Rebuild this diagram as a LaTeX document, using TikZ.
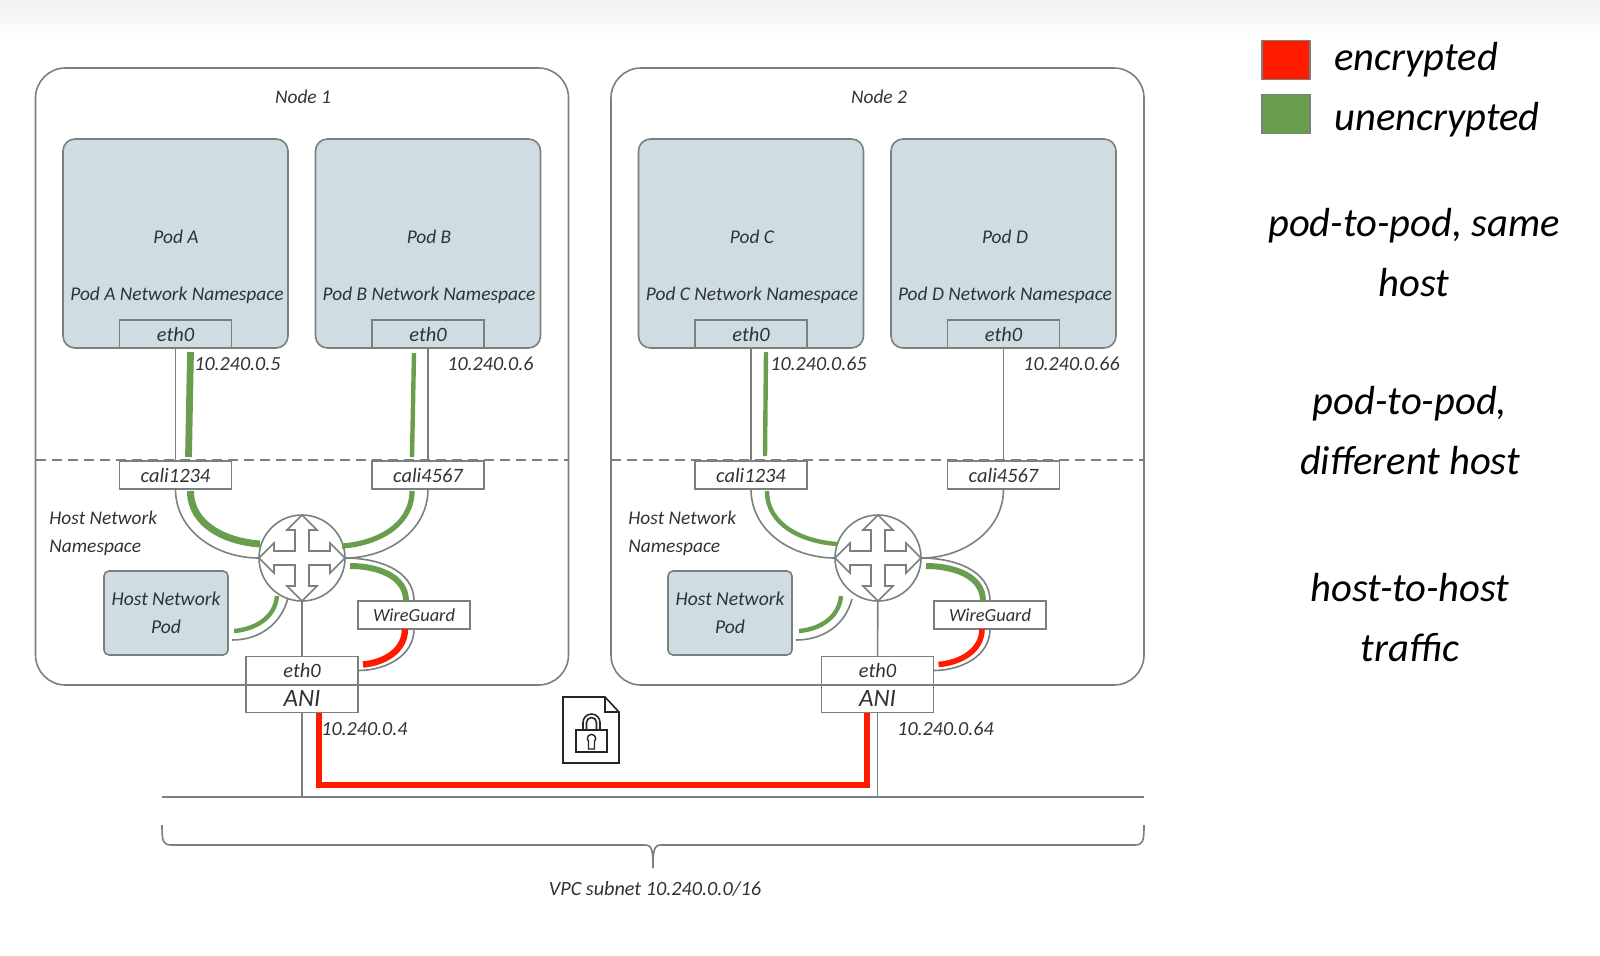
\documentclass[tikz,border=0pt]{standalone}
\usepackage{fontspec}
\setmainfont{Carlito}
\usetikzlibrary{positioning}
\definecolor{podfill}{HTML}{CFDCE2}
\definecolor{edge}{HTML}{7A8080}
\definecolor{plain}{HTML}{6A9E4F}
\definecolor{secret}{HTML}{FF1A00}
\definecolor{ink}{HTML}{2E3436}
\tikzset{
	hostbox/.style={draw=edge, line width=0.8pt, rounded corners=15pt, minimum width=266.5pt, minimum height=308.5pt, outer sep=0pt},
	pod/.style={draw=edge, line width=0.8pt, rounded corners=6pt, fill=podfill, minimum width=112.5pt, minimum height=104.5pt, outer sep=0pt},
	hostpod/.style={pod, rounded corners=2.5pt, minimum width=62pt, minimum height=42pt, inner sep=0pt, align=center, text=ink, font=\itshape\fontsize{9.8}{14}\selectfont},
	iface/.style={draw=edge, line width=0.8pt, minimum width=56pt, minimum height=14pt, inner sep=0pt, outer sep=0pt, text=ink, font=\itshape\fontsize{10.2}{12}\selectfont},
	router/.style={circle, draw=edge, line width=0.8pt, fill=white, minimum size=43pt, inner sep=0pt, outer sep=0pt},
	tag/.style={inner sep=0pt, text=ink, font=\itshape\fontsize{9.7}{14}\selectfont},
	addr/.style={tag, anchor=west, font=\itshape\fontsize{10}{12}\selectfont},
	swatch/.style={draw=edge, line width=0.8pt, minimum width=24pt, minimum height=19.5pt, outer sep=0pt},
	legend/.style={inner sep=0pt, align=center, text=black, font=\itshape\fontsize{20.3}{30}\selectfont},
	wire/.style={draw=edge, line width=0.8pt},
	clear/.style={draw=plain, line width=#1},
	clear/.default=2.4pt,
	crypt/.style={draw=secret, line width=#1},
	crypt/.default=3pt
}
\newcommand{\crossarrows}[1]{
	\draw[edge, line width=0.8pt, fill=white, shift={(#1)}] (0,-43) -- (15,-28) -- (7,-28) -- (7,-7) -- (28,-7) -- (28,-15) -- (43,0) -- (28,15) -- (28,7) -- (7,7) -- (7,28) -- (15,28) -- (0,43) -- (-15,28) -- (-7,28) -- (-7,7) -- (-28,7) -- (-28,15) -- (-43,0) -- (-28,-15) -- (-28,-7) -- (-7,-7) -- (-7,-28) -- (-15,-28) -- cycle;
}
\begin{document}
\begin{tikzpicture}[x=0.5pt, y=-0.5pt]
	\useasboundingbox (0,0) rectangle (1600,955);
	\shade[top color=black!5, bottom color=white] (0,0) rectangle (1600,42);

	\node[hostbox] (hostA) at (302,376.5) {};
	\node[hostbox] (hostB) at (877.5,376.5) {};
	\node[tag] (hostAname) at (303,97) {Node 1};
	\node[tag] (hostBname) at (879,97) {Node 2};

	\draw[edge, line width=0.7pt, dashed, dash pattern=on 5pt off 3pt] (hostA.west |- 0,460) -- (hostA.east |- 0,460);
	\draw[edge, line width=0.7pt, dashed, dash pattern=on 5pt off 3pt] (hostB.west |- 0,460) -- (hostB.east |- 0,460);

	\node[pod] (podA) at (175.5,243.5) {};
	\node[pod] (podB) at (428,243.5) {};
	\node[pod] (podC) at (751,243.5) {};
	\node[pod] (podD) at (1003.5,243.5) {};
	\node[tag] (podAname) at (176,237) {Pod A};
	\node[tag] (podBname) at (429,237) {Pod B};
	\node[tag] (podCname) at (752,237) {Pod C};
	\node[tag] (podDname) at (1005,237) {Pod D};
	\node[tag] (podAns) at (177,295) {Pod A Network Namespace};
	\node[tag] (podBns) at (429,295) {Pod B Network Namespace};
	\node[tag] (podCns) at (752,295) {Pod C Network Namespace};
	\node[tag] (podDns) at (1005,295) {Pod D Network Namespace};

	\node[iface, above=0pt of podA.south] (ethA) {eth0};
	\node[iface, above=0pt of podB.south] (ethB) {eth0};
	\node[iface, above=0pt of podC.south] (ethC) {eth0};
	\node[iface, above=0pt of podD.south] (ethD) {eth0};

	\node[iface, fill=white] (caliA) at (175.5,475) {cali1234};
	\node[iface, fill=white] (caliB) at (428,475) {cali4567};
	\node[iface, fill=white] (caliC) at (751,475) {cali1234};
	\node[iface, fill=white] (caliD) at (1003.5,475) {cali4567};

	\node[router] (routerA) at (302,558) {};
	\node[router] (routerB) at (878,558) {};

	\node[hostpod] (hostpodA) at (166,613) {Host Network\\Pod};
	\node[hostpod] (hostpodB) at (730,613) {Host Network\\Pod};
	\node[iface, fill=white, font=\itshape\fontsize{9.2}{12}\selectfont] (guardA) at (414,615) {WireGuard};
	\node[iface, fill=white, font=\itshape\fontsize{9.2}{12}\selectfont] (guardB) at (990,615) {WireGuard};
	\node[iface, fill=white] (nicA) at (302,670.5) {eth0};
	\node[iface, below=0pt of nicA, font=\itshape\fontsize{12.5}{14}\selectfont] (aniA) {ANI};
	\node[iface, fill=white] (nicB) at (877.5,670.5) {eth0};
	\node[iface, below=0pt of nicB, font=\itshape\fontsize{12.5}{14}\selectfont] (aniB) {ANI};

	\node[tag, align=left, anchor=west] (nsA) at (49,533) {Host Network\\Namespace};
	\node[tag, align=left, anchor=west] (nsB) at (628,533) {Host Network\\Namespace};

	\node[addr] (ipA) at (194,364) {10.240.0.5};
	\node[addr] (ipB) at (447,364) {10.240.0.6};
	\node[addr] (ipC) at (770,364) {10.240.0.65};
	\node[addr] (ipD) at (1023,364) {10.240.0.66};
	\node[addr] (ipE) at (321,729) {10.240.0.4};
	\node[addr] (ipF) at (897,729) {10.240.0.64};

	\draw[wire] (ethA) -- (caliA);
	\draw[wire] (ethB) -- (caliB);
	\draw[wire] (ethC) -- (caliC);
	\draw[wire] (ethD) -- (caliD);
	\draw[wire] (caliA.south) to[out=-90, in=180] (routerA.west);
	\draw[wire] (caliB.south) to[out=-90, in=0] (routerA.east);
	\draw[wire] (caliC.south) to[out=-90, in=180] (routerB.west);
	\draw[wire] (caliD.south) to[out=-90, in=0] (routerB.east);
	\draw[wire] (routerA.east) to[out=0, in=90] (guardA.north);
	\draw[wire] (routerB.east) to[out=0, in=90] (guardB.north);
	\draw[wire] (guardA.south) to[out=-90, in=0] (nicA.east);
	\draw[wire] (guardB.south) to[out=-90, in=0] (nicB.east);
	\draw[wire] (routerA) -- (nicA);
	\draw[wire] (routerB) -- (nicB);
	\draw[wire] ([shift={(-14,40)}]routerA.center) to[out=-105, in=0] ([shift={(4,-15)}]hostpodA.south east);
	\draw[wire] ([shift={(-26,41)}]routerB.center) to[out=-105, in=0] ([shift={(4,-15)}]hostpodB.south east);

	\draw[clear=3.4pt] ([shift={(15,4)}]ethA.south) -- ([shift={(13,-4)}]caliA.north);
	\draw[clear=2.2pt] ([shift={(-14,5)}]ethB.south) -- ([shift={(-16,-4)}]caliB.north);
	\draw[clear=2.2pt] ([shift={(15,4)}]ethC.south) -- ([shift={(14,-5)}]caliC.north);
	\draw[clear=3.5pt] ([shift={(15,2)}]caliA.south) to[out=-90, in=176] ([shift={(-42,-14)}]routerA.center);
	\draw[clear=2.6pt] ([shift={(-16,2)}]caliB.south) to[out=-90, in=4] ([shift={(40,-12)}]routerA.center);
	\draw[clear=2.2pt] ([shift={(16,2)}]caliC.south) to[out=-90, in=176] ([shift={(-41,-14)}]routerB.center);
	\draw[clear=3pt] ([shift={(48,8)}]routerA.center) to[out=0, in=90] ([xshift=-4pt]guardA.north);
	\draw[clear=3pt] ([shift={(48,8)}]routerB.center) to[out=0, in=90] ([xshift=-3.5pt]guardB.north);
	\draw[clear=2.2pt] ([shift={(-25,38)}]routerA.center) to[out=-95, in=5] ([shift={(6,-24)}]hostpodA.south east);
	\draw[clear=2.2pt] ([shift={(-37,38)}]routerB.center) to[out=-95, in=5] ([shift={(7,-24)}]hostpodB.south east);

	\draw[crypt=3.2pt] ([xshift=-4.5pt]guardA.south) to[out=-90, in=5] ([shift={(5,-6)}]nicA.east);
	\draw[crypt=2.8pt] ([xshift=-4pt]guardB.south) to[out=-90, in=5] ([shift={(5,-6)}]nicB.east);
	\draw[crypt] ([xshift=8.5pt]aniA.south) -- ++(0,72) -| ([xshift=-5.25pt]aniB.south);

	\coordinate (busleft) at (162,797);
	\coordinate (busright) at (1144,797);
	\draw[edge, line width=0.8pt] (busleft) -- (busright);
	\draw[wire] (aniA) -- (aniA |- busleft);
	\draw[wire] (aniB) -- (aniB |- busleft);

	\crossarrows{routerA}
	\crossarrows{routerB}

	\draw[edge, line width=0.8pt] (162,825) .. controls (162,842) and (163,845) .. (172,845) -- (645,845) .. controls (652,845) and (653,850) .. (653,868);
	\draw[edge, line width=0.8pt] (1144,825) .. controls (1144,842) and (1143,845) .. (1134,845) -- (661,845) .. controls (654,845) and (653,850) .. (653,868);
	\node[tag, font=\itshape\fontsize{10.1}{12}\selectfont] (subnet) at (655,889) {VPC subnet 10.240.0.0/16};

	\draw[black!85, line width=0.8pt] (563,697) -- (605,697) -- (619,712) -- (619,763) -- (563,763) -- cycle;
	\draw[black!85, line width=0.8pt] (605,697) -- (605,712) -- (619,712);
	\draw[black!85, line width=0.8pt] (586.5,730) -- (586.5,722.5) arc (180:360:5) -- (596.5,730);
	\draw[black!85, line width=0.8pt] (583,730) -- (583,722.5) arc (180:360:8.5) -- (600,730);
	\draw[black!85, line width=0.8pt] (576,730) rectangle (607,752);
	\draw[black!85, line width=0.7pt] (588.5,741.5) -- (588.5,749) -- (594.5,749) -- (594.5,741.5) arc (45:-225:4.2);

	\node[swatch, fill=secret] (swatchred) at (1286,60) {};
	\node[swatch, fill=plain] (swatchgreen) at (1286,114) {};
	\node[legend, anchor=west, right=24pt of swatchred.center] (encrypted) {encrypted};
	\node[legend, anchor=west, right=24pt of swatchgreen.center, yshift=-3pt] (unencrypted) {unencrypted};
	\node[legend] (samehost) at (1414,253) {pod-to-pod, same\\host};
	\node[legend] (diffhost) at (1410,431) {pod-to-pod,\\different host};
	\node[legend] (hosthost) at (1410,618) {host-to-host\\traffic};
\end{tikzpicture}
\end{document}
